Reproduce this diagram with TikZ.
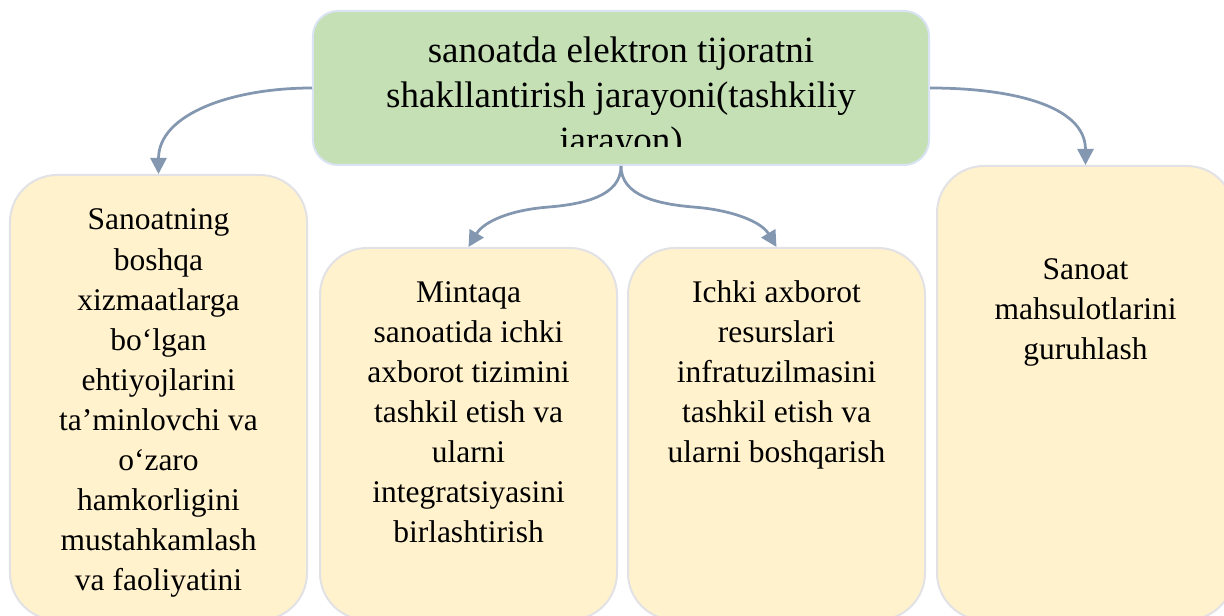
\documentclass[tikz,border=0pt]{standalone}
\usepackage{fontspec}
\setmainfont{Liberation Serif}
\usetikzlibrary{arrows.meta}
\definecolor{gfill}{HTML}{C5E0B4}
\definecolor{gline}{HTML}{DAE3F3}
\definecolor{yfill}{HTML}{FFF2CC}
\definecolor{yline}{HTML}{E2E2E6}
\definecolor{connc}{HTML}{8497B0}
\tikzset{
 topbox/.style={draw=gline, line width=2bp, fill=gfill, rounded corners=25bp, minimum width=616bp, minimum height=154bp, inner sep=0pt},
 leafbox/.style={draw=yline, line width=2bp, fill=yfill, rounded corners=47bp, minimum width=297bp, inner sep=0pt},
 toptext/.style={font=\fontsize{37bp}{45bp}\selectfont, align=center, anchor=base, inner sep=0pt},
 leaftext/.style={font=\fontsize{31.5bp}{40bp}\selectfont, align=center, anchor=base, inner sep=0pt},
 connector/.style={draw=connc, line width=2.75bp, -{Triangle[length=16bp,width=16bp]}},
}
\begin{document}
\begin{tikzpicture}[x=1bp,y=-1bp]
\useasboundingbox (0,0) rectangle (1224,616);
\clip (0,0) rectangle (1224,616);
\node[topbox] (top) at (621,88) {};
\begin{scope}
\clip (313,11) rectangle (929,147);
\node[toptext] (toptxt) at (621,153) {sanoatda elektron tijoratni\\shakllantirish jarayoni(tashkiliy\\jarayon)};
\end{scope}
\node[leafbox, minimum height=445bp] (b1) at (158.5,397.5) {};
\node[leafbox, minimum height=372bp] (b2) at (468.5,434) {};
\node[leafbox, minimum height=372bp] (b3) at (776.5,434) {};
\node[leafbox, minimum height=454bp] (b4) at (1085.5,393) {};
\node[leaftext] (t1) at (158.5,590) {Sanoatning\\boshqa\\xizmaatlarga\\bo‘lgan\\ehtiyojlarini\\ta’minlovchi va\\o‘zaro\\hamkorligini\\mustahkamlash\\va faoliyatini};
\node[leaftext] (t2) at (468.5,542) {Mintaqa\\sanoatida ichki\\axborot tizimini\\tashkil etish va\\ularni\\integratsiyasini\\birlashtirish};
\node[leaftext] (t3) at (776.5,462) {Ichki axborot\\resurslari\\infratuzilmasini\\tashkil etish va\\ularni boshqarish};
\node[leaftext] (t4) at (1085.5,360) {Sanoat\\mahsulotlarini\\guruhlash};
\coordinate (ml) at (549,207);
\coordinate (mr) at (693,207);
\draw[connector] (top.west) .. controls +(-80,0) and +(0,-60) .. (b1.north);
\draw[connector] (top.east) .. controls +(80,0) and +(0,-60) .. (b4.north);
\draw[connector] (top.south) .. controls +(0,30) and +(35,-3) .. (ml) .. controls +(-40,3) and +(15,-25) .. (b2.north);
\draw[connector] (top.south) .. controls +(0,30) and +(-35,-3) .. (mr) .. controls +(40,3) and +(-15,-25) .. (b3.north);
\end{tikzpicture}
\end{document}
